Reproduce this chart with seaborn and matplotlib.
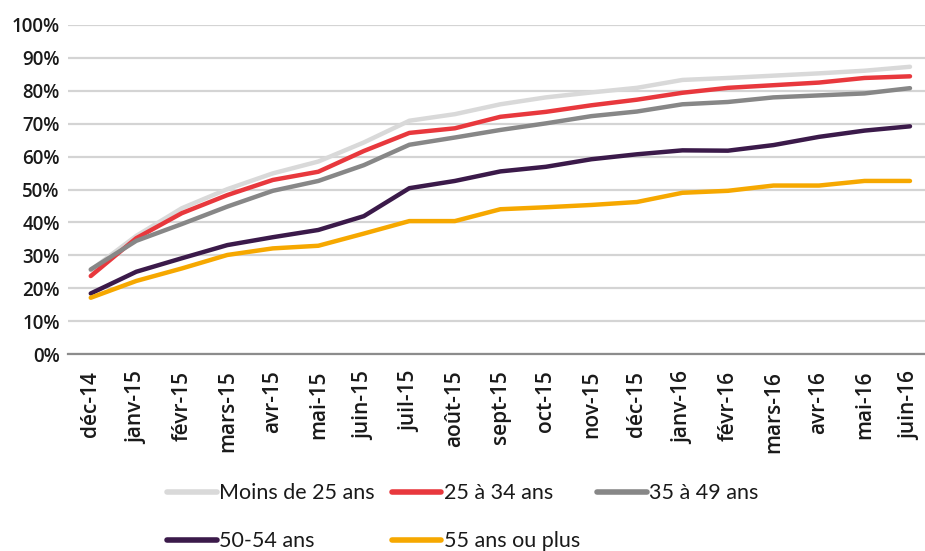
import matplotlib
matplotlib.use("Agg")
import matplotlib.pyplot as plt
import seaborn as sns
import pandas as pd

months = ["déc-14", "janv-15", "févr-15", "mars-15", "avr-15", "mai-15", "juin-15",
          "juil-15", "août-15", "sept-15", "oct-15", "nov-15", "déc-15", "janv-16",
          "févr-16", "mars-16", "avr-16", "mai-16", "juin-16"]

moins_25 = [25.5, 35.9, 44.3, 50.1, 54.9, 58.5, 64.3, 70.9, 72.9, 75.9, 78.0, 79.5,
            80.9, 83.3, 83.9, 84.6, 85.3, 86.1, 87.3]
a25_34 = [23.7, 35.2, 42.8, 48.3, 52.9, 55.4, 61.7, 67.2, 68.6, 72.1, 73.6, 75.6,
          77.3, 79.4, 80.9, 81.7, 82.5, 83.9, 84.4]
a35_49 = [25.7, 34.4, 39.5, 44.8, 49.6, 52.6, 57.4, 63.6, 65.8, 68.1, 70.1, 72.3,
          73.7, 75.9, 76.6, 78.0, 78.6, 79.2, 80.8]
a50_54 = [18.4, 25.0, 29.1, 33.1, 35.5, 37.7, 41.9, 50.4, 52.6, 55.5, 56.9, 59.2,
          60.7, 61.9, 61.8, 63.5, 66.0, 67.9, 69.2]
a55_plus = [17.1, 22.2, 26.0, 30.1, 32.1, 32.9, 36.6, 40.4, 40.4, 44.0, 44.6, 45.3,
            46.2, 49.0, 49.6, 51.2, 51.2, 52.6, 52.6]

series_names = ["Moins de 25 ans", "25 à 34 ans", "35 à 49 ans", "50-54 ans", "55 ans ou plus"]
series_vals = [moins_25, a25_34, a35_49, a50_54, a55_plus]
colors = ["#d9d9d9", "#e8383d", "#878787", "#3b1a4a", "#f6a800"]

rows = []
for name, vals in zip(series_names, series_vals):
    for i, v in enumerate(vals):
        rows.append({"x": i, "mois": months[i], "val": v / 100.0, "serie": name})
df = pd.DataFrame(rows)

sns.set_theme(style="white")
plt.rcParams["font.family"] = ["Open Sans", "DejaVu Sans"]

fig = plt.figure(figsize=(9.25, 5.51), dpi=100)
ax = fig.add_axes([68 / 925, 1 - 354 / 551, (925 - 68) / 925, (354 - 25) / 551])

sns.lineplot(data=df, x="x", y="val", hue="serie", hue_order=series_names,
             palette=colors, linewidth=3.2, ax=ax, sort=False, legend=True,
             solid_capstyle="round")

ax.set_ylim(0, 1.0)
ax.set_xlim(-0.5, 18 + (925 - 910) / 45.5)
ax.set_yticks([i / 10 for i in range(11)])
ax.set_yticklabels([f"{i*10}%" for i in range(11)], fontsize=13.5,
                   fontweight="semibold", color="#1a1a1a")
ax.set_xticks(range(len(months)))
ax.set_xticklabels(months, rotation=90, fontsize=15, fontweight="semibold",
                   color="#1a1a1a")
ax.tick_params(axis="y", length=0, pad=6)
ax.tick_params(axis="x", length=0, pad=12)
ax.yaxis.grid(True, color="#d4d4d4", linewidth=1.6)
ax.xaxis.grid(False)
ax.set_axisbelow(True)
for s in ["top", "right", "left"]:
    ax.spines[s].set_visible(False)
ax.spines["bottom"].set_color("#8c8c8c")
ax.spines["bottom"].set_linewidth(1.6)
ax.set_xlabel("")
ax.set_ylabel("")

handles, labels = ax.get_legend_handles_labels()
ax.legend_.remove()
for h in handles:
    h.set_linewidth(4)
order = [0, 3, 1, 4, 2]
leg = fig.legend([handles[i] for i in order], [labels[i] for i in order],
                 ncol=3, loc="lower left",
                 bbox_to_anchor=(148 / 925, -0.036), frameon=False,
                 prop={"family": ["Lato", "DejaVu Sans"], "size": 15.5},
                 handlelength=2.3, handletextpad=0.1, columnspacing=0.8,
                 labelspacing=1.3)
for t in leg.get_texts():
    t.set_color("#1a1a1a")

fig.savefig("out.png", dpi=100)
